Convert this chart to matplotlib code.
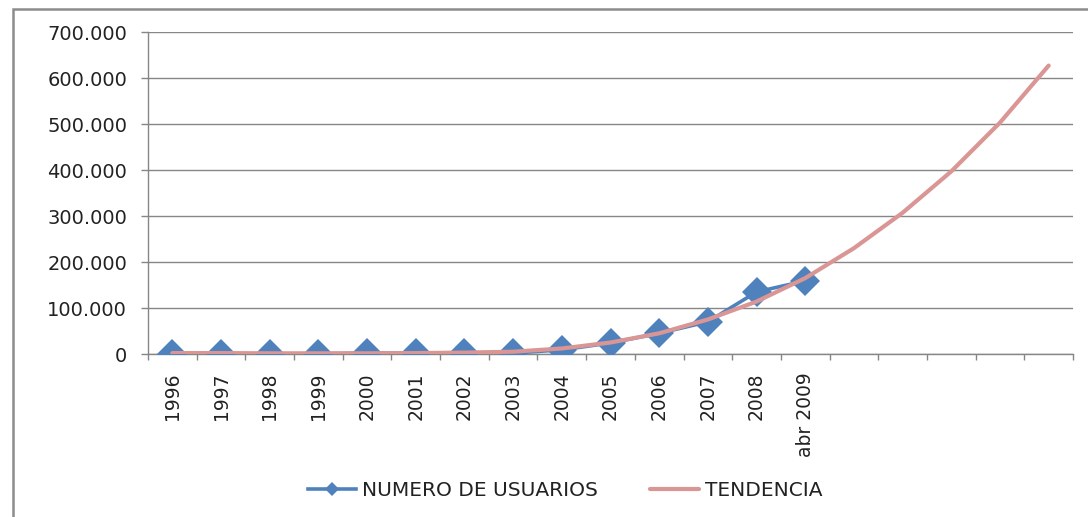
import matplotlib
matplotlib.use("Agg")
import matplotlib.pyplot as plt
from matplotlib.patches import Rectangle
from matplotlib.ticker import FuncFormatter

# category labels (the last five slots are empty, only used by the trend)
categories = ["1996", "1997", "1998", "1999", "2000", "2001", "2002", "2003",
              "2004", "2005", "2006", "2007", "2008", "abr 2009",
              "", "", "", "", ""]

# number of users per year
usuarios = [0, 0, 0, 500, 2000, 2000, 3000, 2000, 9000, 24000, 45000,
            70000, 135000, 159000]

# trend line values
tendencia = [2000, 2000, 1500, 1500, 1500, 2000, 3000, 5000, 12000, 25000,
             45000, 75000, 114000, 165000, 230000, 307000, 397000, 503000,
             627000]

BLUE = "#4F81BD"
PINK = "#D99694"
GRAY = "#868686"

fig = plt.figure(figsize=(10.88, 5.17), dpi=100)
ax = fig.add_axes([148 / 1088, 1 - 354 / 517, (1073 - 148) / 1088, (354 - 32) / 517])

x_all = list(range(len(categories)))
ax.plot(range(len(usuarios)), usuarios, color=BLUE, lw=2.6, marker="D",
        markersize=15.5, markeredgewidth=0, label="NUMERO DE USUARIOS", zorder=3)
ax.plot(range(len(tendencia)), tendencia, color=PINK, lw=3, label="TENDENCIA",
        solid_capstyle="round", solid_joinstyle="round", zorder=4)

ax.set_xlim(-0.5, len(categories) - 0.5)
ax.set_ylim(0, 700000)
ax.set_yticks(range(0, 700001, 100000))
ax.yaxis.set_major_formatter(FuncFormatter(lambda v, p: f"{int(v):,}".replace(",", ".")))

# category ticks sit between the labels
ax.set_xticks([i - 0.5 for i in range(len(categories) + 1)])
ax.set_xticklabels([])
ax.set_xticks(x_all, minor=True)
ax.set_xticklabels(categories, minor=True, rotation=90, fontsize=13.5,
                   family=["Liberation Sans Narrow", "DejaVu Sans"], color="#222222")
ax.tick_params(axis="x", which="minor", length=0, pad=13)
ax.tick_params(axis="x", which="major", length=4.3, width=1, color=GRAY, direction="out")
ax.tick_params(axis="y", length=5, width=1, color=GRAY, pad=10, labelsize=14,
               labelcolor="#222222")

ax.grid(axis="y", color=GRAY, lw=1)
ax.set_axisbelow(True)
for side in ["top", "right"]:
    ax.spines[side].set_visible(False)
for side in ["left", "bottom"]:
    ax.spines[side].set_color(GRAY)
    ax.spines[side].set_linewidth(1)

leg = fig.legend(loc="center", bbox_to_anchor=(565 / 1088, 1 - 491 / 517), ncol=2,
                 frameon=False, fontsize=14.5, handlelength=2.4, columnspacing=2.6,
                 handletextpad=0.3, markerscale=0.45)
for t in leg.get_texts():
    t.set_color("#222222")

# outer chart frame
fig.patches.append(Rectangle((13 / 1088, -0.1), 1.2, 1.1 - 9 / 517, transform=fig.transFigure,
                             fill=False, edgecolor="#8C8C8C", lw=1.8))

fig.savefig("out.png", dpi=100)
